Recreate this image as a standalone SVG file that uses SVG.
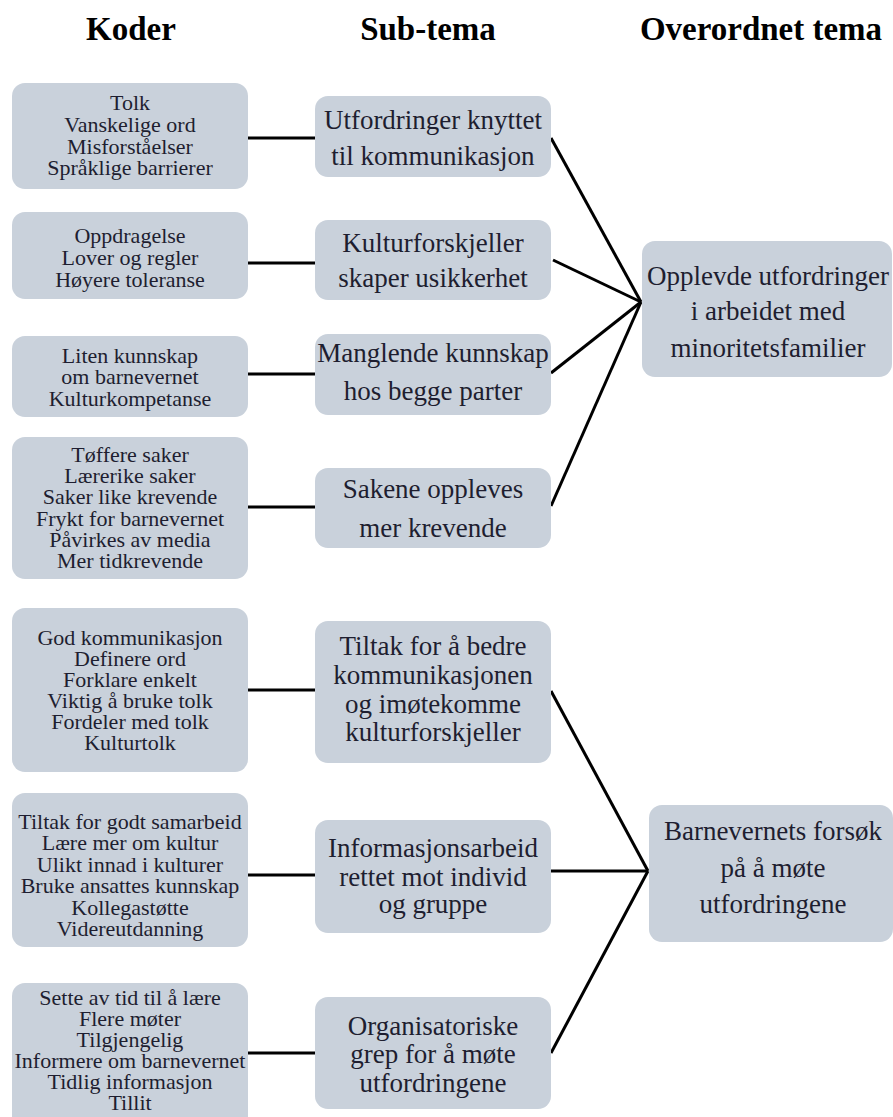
<svg xmlns="http://www.w3.org/2000/svg" width="893" height="1117" viewBox="0 0 893 1117">
<style>
.box{fill:#c9d1db}
.hd{font-family:"Liberation Serif","Times New Roman",serif;font-weight:bold;font-size:33px;fill:#000;text-anchor:middle}
.cd{font-family:"Liberation Serif","Times New Roman",serif;font-size:22px;fill:#1e1e30;text-anchor:middle}
.sb{font-family:"Liberation Serif","Times New Roman",serif;font-size:27px;fill:#1e1e30;text-anchor:middle}
.cn{stroke:#000;stroke-width:3;fill:none}
</style>
<rect width="893" height="1117" fill="#fff"/>
<g id="headings">
<text class="hd" x="131" y="40">Koder</text>
<text class="hd" x="428" y="40">Sub-tema</text>
<text class="hd" x="761" y="40">Overordnet tema</text>
</g>
<g id="connectors">
<line class="cn" x1="248" y1="138" x2="315" y2="138"/>
<line class="cn" x1="248" y1="263" x2="315" y2="263"/>
<line class="cn" x1="248" y1="374" x2="315" y2="374"/>
<line class="cn" x1="248" y1="507" x2="315" y2="507"/>
<line class="cn" x1="248" y1="690" x2="315" y2="690"/>
<line class="cn" x1="248" y1="875" x2="315" y2="875"/>
<line class="cn" x1="248" y1="1053" x2="315" y2="1053"/>
<line class="cn" x1="551" y1="138" x2="641" y2="302"/>
<line class="cn" x1="553" y1="260" x2="641" y2="302"/>
<line class="cn" x1="551" y1="373" x2="641" y2="302"/>
<line class="cn" x1="551" y1="506" x2="641" y2="302"/>
<line class="cn" x1="551" y1="691" x2="648" y2="871"/>
<line class="cn" x1="551" y1="871" x2="648" y2="871"/>
<line class="cn" x1="551" y1="1053" x2="648" y2="871"/>
</g>
<g id="kode1"><rect class="box" x="12" y="83" width="236" height="106" rx="13"/>
<text class="cd" x="130" y="110">Tolk</text><text class="cd" x="130" y="132">Vanskelige ord</text><text class="cd" x="130" y="154">Misforståelser</text><text class="cd" x="130" y="175">Språklige barrierer</text></g>
<g id="kode2"><rect class="box" x="12" y="212" width="236" height="87" rx="13"/>
<text class="cd" x="130" y="243">Oppdragelse</text><text class="cd" x="130" y="265">Lover og regler</text><text class="cd" x="130" y="287">Høyere toleranse</text></g>
<g id="kode3"><rect class="box" x="12" y="336" width="236" height="81" rx="13"/>
<text class="cd" x="130" y="363">Liten kunnskap</text><text class="cd" x="130" y="384">om barnevernet</text><text class="cd" x="130" y="406">Kulturkompetanse</text></g>
<g id="kode4"><rect class="box" x="12" y="437" width="236" height="142" rx="13"/>
<text class="cd" x="130" y="462">Tøffere saker</text><text class="cd" x="130" y="483">Lærerike saker</text><text class="cd" x="130" y="504">Saker like krevende</text><text class="cd" x="130" y="526">Frykt for barnevernet</text><text class="cd" x="130" y="547">Påvirkes av media</text><text class="cd" x="130" y="568">Mer tidkrevende</text></g>
<g id="kode5"><rect class="box" x="12" y="608" width="236" height="164" rx="13"/>
<text class="cd" x="130" y="645">God kommunikasjon</text><text class="cd" x="130" y="666">Definere ord</text><text class="cd" x="130" y="687">Forklare enkelt</text><text class="cd" x="130" y="708">Viktig å bruke tolk</text><text class="cd" x="130" y="729">Fordeler med tolk</text><text class="cd" x="130" y="750">Kulturtolk</text></g>
<g id="kode6"><rect class="box" x="12" y="793" width="236" height="154" rx="13"/>
<text class="cd" x="130" y="829">Tiltak for godt samarbeid</text><text class="cd" x="130" y="850">Lære mer om kultur</text><text class="cd" x="130" y="872">Ulikt innad i kulturer</text><text class="cd" x="130" y="893">Bruke ansattes kunnskap</text><text class="cd" x="130" y="915">Kollegastøtte</text><text class="cd" x="130" y="936">Videreutdanning</text></g>
<g id="kode7"><rect class="box" x="12" y="983" width="236" height="150" rx="13"/>
<text class="cd" x="130" y="1005">Sette av tid til å lære</text><text class="cd" x="130" y="1026">Flere møter</text><text class="cd" x="130" y="1047">Tilgjengelig</text><text class="cd" x="130" y="1068">Informere om barnevernet</text><text class="cd" x="130" y="1089">Tidlig informasjon</text><text class="cd" x="130" y="1110">Tillit</text></g>
<g id="sub1"><rect class="box" x="315" y="96" width="236" height="81" rx="13"/>
<text class="sb" x="433" y="129">Utfordringer knyttet</text><text class="sb" x="433" y="165">til kommunikasjon</text></g>
<g id="sub2"><rect class="box" x="315" y="220" width="236" height="80" rx="13"/>
<text class="sb" x="433" y="252">Kulturforskjeller</text><text class="sb" x="433" y="287">skaper usikkerhet</text></g>
<g id="sub3"><rect class="box" x="315" y="334" width="236" height="81" rx="13"/>
<text class="sb" x="433" y="362">Manglende kunnskap</text><text class="sb" x="433" y="400">hos begge parter</text></g>
<g id="sub4"><rect class="box" x="315" y="468" width="236" height="80" rx="13"/>
<text class="sb" x="433" y="498">Sakene oppleves</text><text class="sb" x="433" y="537">mer krevende</text></g>
<g id="sub5"><rect class="box" x="315" y="621" width="236" height="142" rx="13"/>
<text class="sb" x="433" y="655">Tiltak for å bedre</text><text class="sb" x="433" y="684">kommunikasjonen</text><text class="sb" x="433" y="713">og imøtekomme</text><text class="sb" x="433" y="741">kulturforskjeller</text></g>
<g id="sub6"><rect class="box" x="315" y="820" width="236" height="113" rx="13"/>
<text class="sb" x="433" y="857">Informasjonsarbeid</text><text class="sb" x="433" y="886">rettet mot individ</text><text class="sb" x="433" y="913">og gruppe</text></g>
<g id="sub7"><rect class="box" x="315" y="997" width="236" height="112" rx="13"/>
<text class="sb" x="433" y="1035">Organisatoriske</text><text class="sb" x="433" y="1063">grep for å møte</text><text class="sb" x="433" y="1092">utfordringene</text></g>
<g id="tema1"><rect class="box" x="642" y="241" width="250" height="136" rx="13"/>
<text class="sb" x="768" y="285">Opplevde utfordringer</text><text class="sb" x="768" y="320">i arbeidet med</text><text class="sb" x="768" y="357">minoritetsfamilier</text></g>
<g id="tema2"><rect class="box" x="649" y="805" width="244" height="137" rx="13"/>
<text class="sb" x="773" y="840">Barnevernets forsøk</text><text class="sb" x="773" y="877">på å møte</text><text class="sb" x="773" y="913">utfordringene</text></g>
</svg>
